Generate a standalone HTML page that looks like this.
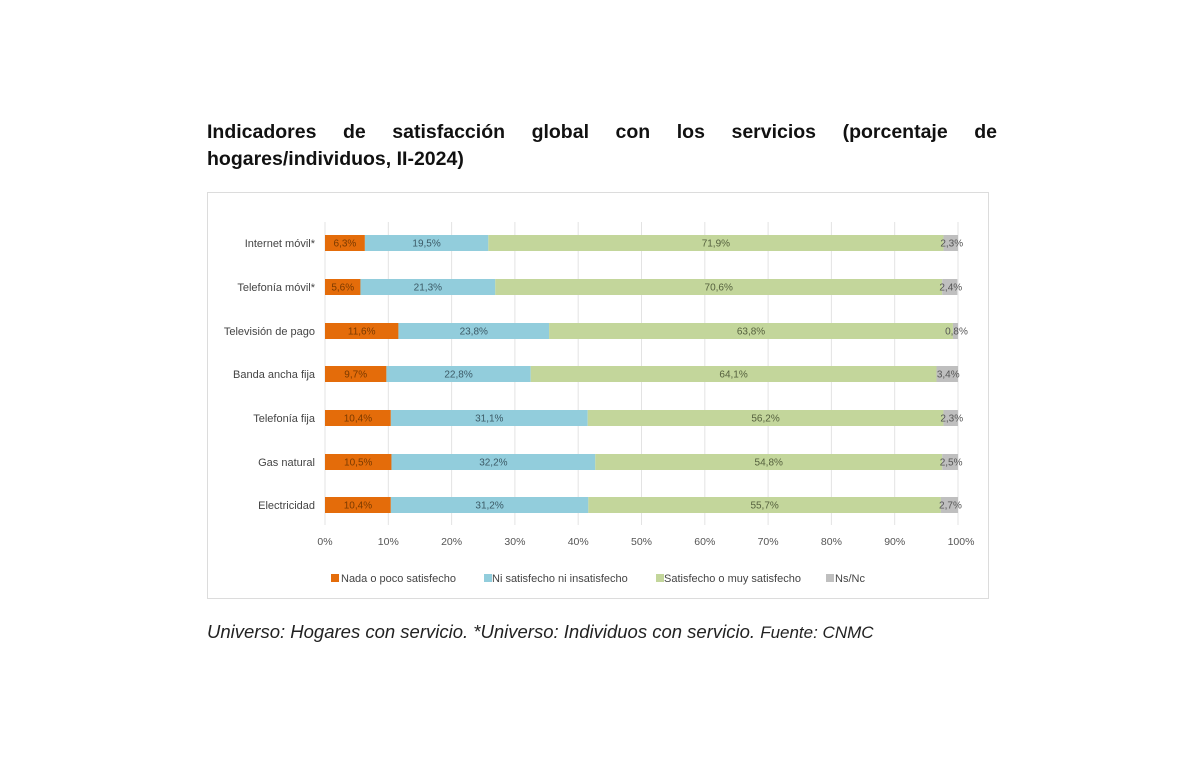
<!DOCTYPE html>
<html><head><meta charset="utf-8"><style>
body{margin:0;background:#fff;width:1200px;height:757px;overflow:hidden;font-family:"Liberation Sans",sans-serif}
#t{position:absolute;left:207px;top:119px;width:790px;font-weight:bold;font-size:19.5px;line-height:27px;color:#111;text-align:justify;text-align-last:left}
#f{position:absolute;left:207px;top:621px;font-style:italic;font-size:18.5px;color:#222;white-space:nowrap}
svg{position:absolute;left:0;top:0}
</style></head><body>
<div id="t">Indicadores de satisfacción global con los servicios (porcentaje de hogares/individuos, II-2024)</div>
<svg width="1200" height="757" font-family="Liberation Sans, sans-serif">
<rect x="207.5" y="192.5" width="781" height="406" fill="#fff" stroke="#dcdcdc"/>
<g id="grid" stroke="#e3e3e3"></g>
<g id="bars"></g>
<g id="ax" font-size="10.5" fill="#555" text-anchor="middle"></g>
<g font-size="11" fill="#444">
<rect x="331" y="574" width="8" height="8" fill="#e46c0a"/><text x="341" y="582">Nada o poco satisfecho</text>
<rect x="484" y="574" width="8" height="8" fill="#92cddc"/><text x="492" y="582">Ni satisfecho ni insatisfecho</text>
<rect x="656" y="574" width="8" height="8" fill="#c3d69b"/><text x="664" y="582">Satisfecho o muy satisfecho</text>
<rect x="826" y="574" width="8" height="8" fill="#bfbfbf"/><text x="835" y="582">Ns/Nc</text>
</g>
</svg>
<div id="f">Universo: Hogares con servicio. *Universo: Individuos con servicio. <span style="font-size:17px">Fuente: CNMC</span></div>
<script>
var x0=325,s=6.33,ns="http://www.w3.org/2000/svg";
var rows=[["Internet móvil*",6.3,19.5,71.9,2.3,243],["Telefonía móvil*",5.6,21.3,70.6,2.4,287],["Televisión de pago",11.6,23.8,63.8,0.8,331],["Banda ancha fija",9.7,22.8,64.1,3.4,374],["Telefonía fija",10.4,31.1,56.2,2.3,418],["Gas natural",10.5,32.2,54.8,2.5,462],["Electricidad",10.4,31.2,55.7,2.7,505]];
var cols=["#e46c0a","#92cddc","#c3d69b","#bfbfbf"],tc=["#7a3a00","#3c5a66","#55603e","#555"];
function el(t,a,p,txt){var e=document.createElementNS(ns,t);for(var k in a)e.setAttribute(k,a[k]);if(txt)e.textContent=txt;document.getElementById(p).appendChild(e);}
for(var i=0;i<=10;i++){var x=x0+i*63.3;el("line",{x1:x,x2:x,y1:222,y2:525},"grid");el("text",{x:x+(i==10?3:0),y:545},"ax",i*10+"%");}
rows.forEach(function(r){var y=r[5];el("text",{x:315,y:y+4,"font-size":"11","fill":"#444","text-anchor":"end"},"bars",r[0]);
var c=0;for(var j=0;j<4;j++){var w=r[j+1]*s;var xx=x0+c*s;el("rect",{x:xx,y:y-8,width:w,height:16,fill:cols[j]},"bars");
el("text",{x:j==3?xx+w/2+1:xx+w/2,y:y+3.5,"font-size":"10","fill":tc[j],"text-anchor":"middle"},"bars",r[j+1].toFixed(1).replace(".",",")+"%");c+=r[j+1];}});
</script>
</body></html>
